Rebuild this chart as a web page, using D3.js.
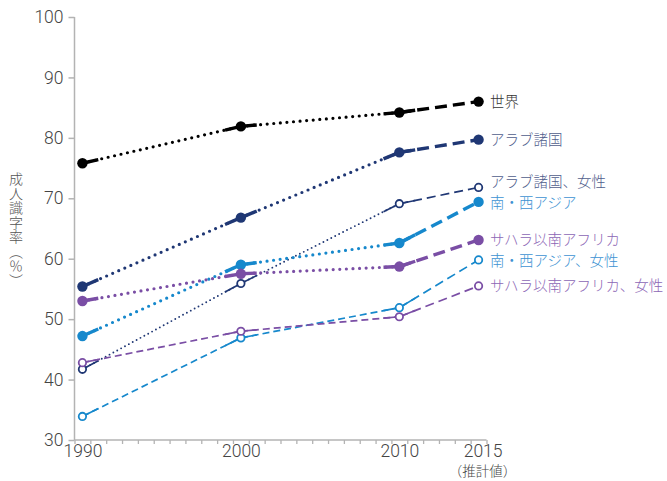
<!DOCTYPE html>
<html><head><meta charset="utf-8">
<script src="https://cdn.jsdelivr.net/npm/d3@7"></script>
<style>
html,body{margin:0;padding:0;background:#fff;}
svg{display:block;font-family:"Noto Sans CJK JP","Noto Sans",sans-serif;font-weight:300;}
</style></head>
<body>
<svg id="c" width="667" height="481"></svg>
<script>
// ---- data ----
const years = [1990, 2000, 2010, 2015];
const seriesNames = ["世界","アラブ諸国","アラブ諸国、女性","南・西アジア","サハラ以南アフリカ","南・西アジア、女性","サハラ以南アフリカ、女性"];
const world        = [75.8, 81.9, 84.2, 86.0];
const arab         = [55.4, 66.8, 77.6, 79.7];
const arabFemale   = [41.7, 55.9, 69.1, 71.8];
const swAsia       = [47.2, 59.0, 62.6, 69.4];
const ssAfrica     = [53.0, 57.5, 58.7, 63.1];
const swAsiaFemale = [33.9, 46.9, 51.9, 59.8];
const ssAfricaFemale = [42.8, 48.0, 50.4, 55.5];
const yTicks = [30, 40, 50, 60, 70, 80, 90, 100];
const xLabels = [1990, 2000, 2010, 2015];
const estimateNote = "（推計値）";
const yTitle = "成人識字率（％）";

// ---- styles ----
const styles = [
  {vals: world,        color:"#000000", text:"#333333", thin:false, open:false, interp:"dot",  dy:0},
  {vals: arab,         color:"#1f3774", text:"#4f5d8c", thin:false, open:false, interp:"dot",  dy:0},
  {vals: arabFemale,   color:"#1f3774", text:"#4f5d8c", thin:true,  open:true,  interp:"dot",  dy:-5},
  {vals: swAsia,       color:"#1688cc", text:"#3d92d2", thin:false, open:false, interp:"dot",  dy:1},
  {vals: ssAfrica,     color:"#7a4ea5", text:"#8c66b5", thin:false, open:false, interp:"dot",  dy:0},
  {vals: swAsiaFemale, color:"#1688cc", text:"#3d92d2", thin:true,  open:true,  interp:"dash", dy:1},
  {vals: ssAfricaFemale,color:"#7a4ea5",text:"#8c66b5", thin:true,  open:true,  interp:"dash", dy:0}
];

const svg = d3.select("#c");
const x = d3.scaleLinear().domain([1989.5, 2015.5]).range([74.5, 486.5]);
const y = d3.scaleLinear().domain([30, 100]).range([440, 17]);

// axes
const gy = svg.append("g").attr("transform","translate(74.5,0)")
  .call(d3.axisLeft(y).tickValues(yTicks).tickSize(6).tickPadding(5).tickFormat(d3.format("d")));
gy.selectAll("path,line").attr("stroke","#b3b3b3").attr("stroke-width",1.5);
gy.select("path").attr("d", `M0,${y(100)}V${y(30)}`);
gy.selectAll("text").attr("fill","#444").style("font-size","17.5px").style("font-family","Roboto, 'Noto Sans', sans-serif").style("font-weight",300);

const gx = svg.append("g").attr("transform","translate(0,440)")
  .call(d3.axisBottom(x).tickValues(d3.range(1989.5, 2016, 1)).tickSize(4).tickFormat(""));
gx.selectAll("path,line").attr("stroke","#b3b3b3").attr("stroke-width",1.3);
gx.select("path").attr("d", `M${x(1989.5)},0H${x(2015.5)}`);

const gxl = svg.append("g").attr("transform","translate(0,440)")
  .call(d3.axisBottom(x).tickValues(xLabels).tickSize(0).tickPadding(3).tickFormat(d3.format("d")));
gxl.select("path").remove();
gxl.selectAll("text").attr("fill","#444").style("font-size","17.5px").style("font-family","Roboto, 'Noto Sans', sans-serif").style("font-weight",300).attr("dy","0.8em");
gxl.selectAll(".tick").filter(d => d === 2015).select("text").attr("dx", 4);

svg.append("text").attr("x", x(2015) + 4).attr("y", 476).attr("text-anchor","middle")
  .attr("fill","#444").style("font-size","13.5px").text(estimateNote);

// y title, vertical
svg.append("text").attr("x", 16).attr("y", 172)
  .attr("fill","#555").style("font-size","14px").style("letter-spacing","0.5px")
  .style("writing-mode","vertical-rl").style("text-orientation","mixed")
  .text(yTitle);

// lines
const lerp = (p, q, t) => [p[0] + (q[0]-p[0])*t, p[1] + (q[1]-p[1])*t];
const gl = svg.append("g");
styles.forEach(s => {
  const pts = years.map((yr, i) => [x(yr), y(s.vals[i])]);
  const w = s.thin ? 1.7 : 3.4;
  for (let i = 0; i < pts.length - 1; i++) {
    const proj = (i === pts.length - 2);
    let dash, cap = "butt", ww = w;
    if (proj) { dash = s.thin ? "9 5" : "12 6"; }
    else if (s.interp === "dot") { dash = s.thin ? "0 4.4" : "0 6.6"; cap = "round"; ww = s.thin ? 1.9 : 3.2; }
    else { dash = "7 4"; }
    gl.append("line").attr("x1", pts[i][0]).attr("y1", pts[i][1]).attr("x2", pts[i+1][0]).attr("y2", pts[i+1][1])
      .attr("stroke", s.color).attr("stroke-width", ww).attr("stroke-dasharray", dash).attr("stroke-linecap", cap);
    // solid stubs at observed ends (one year long)
    const span = years[i+1] - years[i];
    const a = lerp(pts[i], pts[i+1], 1/span);
    gl.append("line").attr("x1", pts[i][0]).attr("y1", pts[i][1]).attr("x2", a[0]).attr("y2", a[1])
      .attr("stroke", s.color).attr("stroke-width", w);
    if (!proj) {
      const b = lerp(pts[i+1], pts[i], 1/span);
      gl.append("line").attr("x1", pts[i+1][0]).attr("y1", pts[i+1][1]).attr("x2", b[0]).attr("y2", b[1])
        .attr("stroke", s.color).attr("stroke-width", w);
    }
  }
  pts.forEach(p => {
    if (s.open) {
      gl.append("circle").attr("cx", p[0]).attr("cy", p[1]).attr("r", 3.7)
        .attr("fill","#fff").attr("stroke", s.color).attr("stroke-width", 1.8);
    } else {
      gl.append("circle").attr("cx", p[0]).attr("cy", p[1]).attr("r", 5.2).attr("fill", s.color);
    }
  });
});

// labels
svg.append("g").selectAll("text").data(styles).join("text")
  .attr("x", 490).attr("y", (d) => y(d.vals[3]) + d.dy)
  .attr("dy","0.35em").attr("fill", d => d.text)
  .style("font-size","14.5px")
  .text((d, i) => seriesNames[i]);
</script>
</body></html>
